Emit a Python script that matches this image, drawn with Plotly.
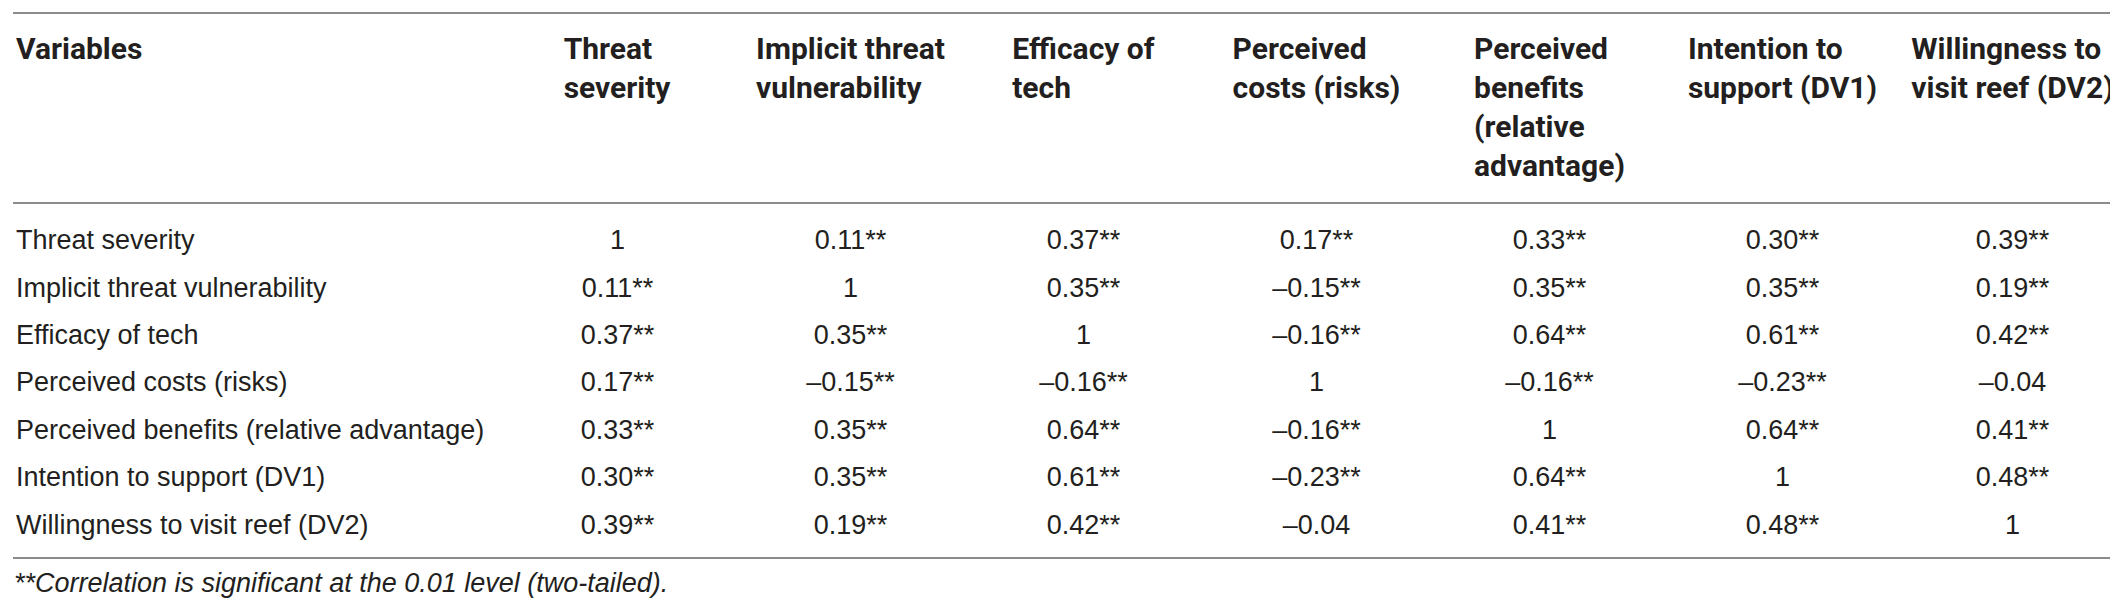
import plotly.graph_objects as go

# Row / column labels
variables = [
    "Threat severity",
    "Implicit threat vulnerability",
    "Efficacy of tech",
    "Perceived costs (risks)",
    "Perceived benefits (relative advantage)",
    "Intention to support (DV1)",
    "Willingness to visit reef (DV2)",
]
header_labels = [
    "Variables",
    "Threat<br>severity",
    "Implicit threat<br>vulnerability",
    "Efficacy of<br>tech",
    "Perceived<br>costs (risks)",
    "Perceived<br>benefits<br>(relative<br>advantage)",
    "Intention to<br>support (DV1)",
    "Willingness to<br>visit reef (DV2)",
]

# Correlation values, one list per column
threat_severity = [1, 0.11, 0.37, 0.17, 0.33, 0.30, 0.39]
implicit_vulnerability = [0.11, 1, 0.35, -0.15, 0.35, 0.35, 0.19]
efficacy_of_tech = [0.37, 0.35, 1, -0.16, 0.64, 0.61, 0.42]
perceived_costs = [0.17, -0.15, -0.16, 1, -0.16, -0.23, -0.04]
perceived_benefits = [0.33, 0.35, 0.64, -0.16, 1, 0.64, 0.41]
intention_support = [0.30, 0.35, 0.61, -0.23, 0.64, 1, 0.48]
willingness_visit = [0.39, 0.19, 0.42, -0.04, 0.41, 0.48, 1]

# pairs (row, col) that are NOT significant at 0.01
not_significant = [(3, 6), (6, 3)]

footnote = "<i>**Correlation is significant at the 0.01 level (two-tailed).</i>"

W, H = 2118, 599
TOP, BOTTOM = 15, 0


def fmt(v, r, c):
    if v == 1:
        return "1"
    s = ("–" if v < 0 else "") + f"{abs(v):.2f}"
    if (r, c) not in not_significant:
        s += "**"
    return s


columns = [threat_severity, implicit_vulnerability, efficacy_of_tech, perceived_costs,
           perceived_benefits, intention_support, willingness_visit]
cell_values = [variables] + [[fmt(v, r, c) for r, v in enumerate(col)] for c, col in enumerate(columns)]


def py(pixel):
    # pixel row (from top of image) -> paper y
    return (H - BOTTOM - pixel) / (H - TOP - BOTTOM)


fig = go.Figure(go.Table(
    columnwidth=[493, 233, 233, 233, 233, 233, 233, 227],
    header=dict(
        values=["<b>" + h + "</b>" for h in header_labels],
        align=["left"] + ["center"] * 7,
        height=198,
        fill_color="white",
        line=dict(color="white", width=0),
        font=dict(family="Roboto, Liberation Sans, Arial", size=30, color="#231f20"),
    ),
    cells=dict(
        values=cell_values,
        align=["left"] + ["center"] * 7,
        height=47.4,
        fill_color="white",
        line=dict(color="white", width=0),
        font=dict(family="Liberation Sans, Arial", size=27, color="#231f20"),
    ),
))

rule = dict(type="line", xref="paper", yref="paper", x0=5 / W, x1=2112 / W,
            line=dict(color="#8c8c8c", width=2))
for yp in [5, 195, 550]:
    fig.add_shape(**rule, y0=py(yp), y1=py(yp))

fig.add_annotation(text=footnote, xref="paper", yref="paper", x=0.002, y=py(575),
                   xanchor="left", yanchor="middle", showarrow=False,
                   font=dict(family="Liberation Sans, Arial", size=27, color="#231f20"))

fig.update_layout(
    width=W, height=H,
    margin=dict(l=0, r=0, t=TOP, b=BOTTOM),
    paper_bgcolor="white",
    plot_bgcolor="white",
)

fig.write_html("out.html")
